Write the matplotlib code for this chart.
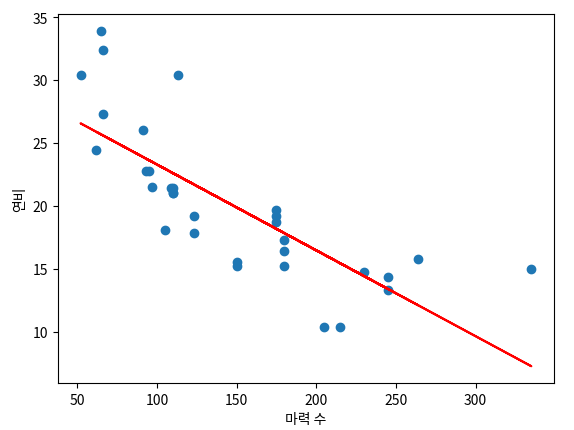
import matplotlib
matplotlib.use("Agg")
import matplotlib.pyplot as plt
import numpy as np

plt.rcParams['font.family'] = ['Noto Sans CJK KR', 'DejaVu Sans']
plt.rcParams['axes.unicode_minus'] = False

# mtcars: horsepower vs mpg
hp = np.array([110, 110, 93, 110, 175, 105, 245, 62, 95, 123, 123, 180, 180, 180,
               205, 215, 230, 66, 52, 65, 97, 150, 150, 245, 175, 66, 91, 113,
               264, 175, 335, 109])
mpg = np.array([21.0, 21.0, 22.8, 21.4, 18.7, 18.1, 14.3, 24.4, 22.8, 19.2, 17.8,
                16.4, 17.3, 15.2, 10.4, 10.4, 14.7, 32.4, 30.4, 33.9, 21.5, 15.5,
                15.2, 13.3, 19.2, 27.3, 26.0, 30.4, 15.8, 19.7, 15.0, 21.4])

slope, intercept = np.polyfit(hp, mpg, 1)
pred = slope * hp + intercept

fig = plt.figure(figsize=(5.74, 4.31), dpi=100)
ax = fig.add_axes([0.101, 0.109, 0.864, 0.856])
ax.scatter(hp, mpg)
ax.plot(hp, pred, 'r')
ax.set_xlabel('마력 수')
ax.set_ylabel('연비')

fig.savefig('out.png', dpi=100)
